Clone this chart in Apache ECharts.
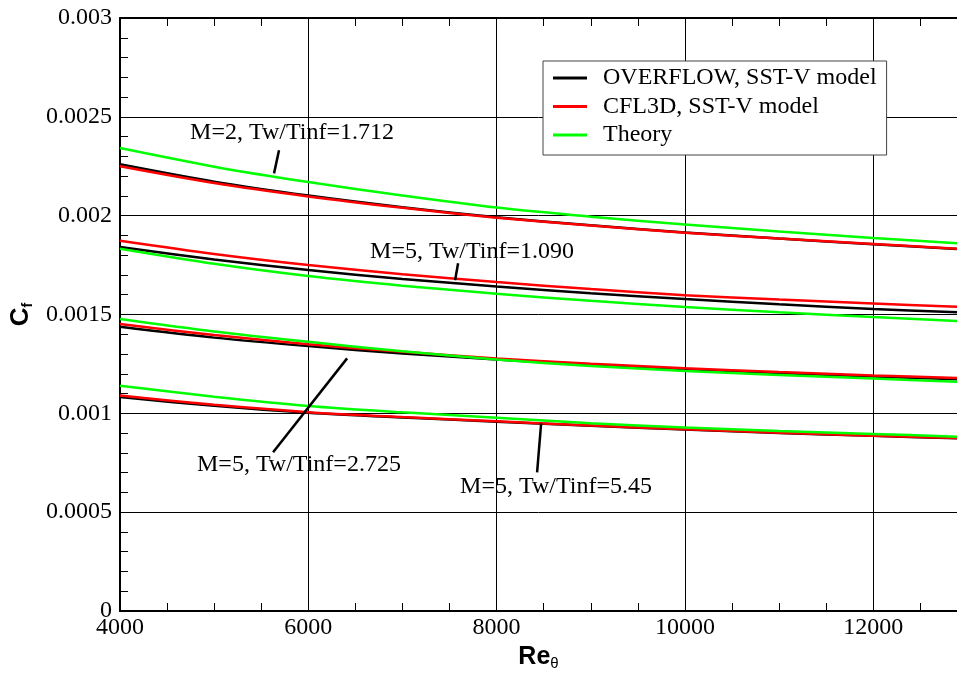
<!DOCTYPE html>
<html><head><meta charset="utf-8">
<script src="https://cdn.jsdelivr.net/npm/echarts@6/dist/echarts.min.js"></script>
<style>html,body{margin:0;padding:0;background:#fff}#c{width:957px;height:674px}</style>
</head><body><div id="c"></div>
<script>
// Re_theta sample positions
const reTheta = [4000, 5000, 6000, 7000, 8000, 9000, 10000, 11000, 12000, 12890];

// M=2, Tw/Tinf=1.712
const overflowM2T1712 = [0.002260, 0.002172, 0.002102, 0.002043, 0.001992, 0.001951, 0.001915, 0.001884, 0.001856, 0.001831];
const cfl3dM2T1712    = [0.002250, 0.002165, 0.002097, 0.002040, 0.001990, 0.001950, 0.001914, 0.001884, 0.001857, 0.001832];
const theoryM2T1712   = [0.002342, 0.002248, 0.002170, 0.002102, 0.002041, 0.001995, 0.001955, 0.001920, 0.001887, 0.001861];

// M=5, Tw/Tinf=1.090
const overflowM5T1090 = [0.001841, 0.001778, 0.001725, 0.001680, 0.001642, 0.001608, 0.001578, 0.001552, 0.001528, 0.001511];
const cfl3dM5T1090    = [0.001873, 0.001806, 0.001750, 0.001704, 0.001664, 0.001629, 0.001598, 0.001576, 0.001556, 0.001539];
const theoryM5T1090   = [0.001833, 0.001757, 0.001695, 0.001646, 0.001605, 0.001569, 0.001538, 0.001511, 0.001487, 0.001467];

// M=5, Tw/Tinf=2.725
const overflowM5T2725 = [0.001438, 0.001383, 0.001340, 0.001303, 0.001272, 0.001246, 0.001224, 0.001204, 0.001186, 0.001172];
const cfl3dM5T2725    = [0.001452, 0.001396, 0.001350, 0.001311, 0.001277, 0.001251, 0.001228, 0.001209, 0.001192, 0.001179];
const theoryM5T2725   = [0.001477, 0.001414, 0.001362, 0.001314, 0.001272, 0.001240, 0.001214, 0.001194, 0.001176, 0.001160];

// M=5, Tw/Tinf=5.45
const overflowM5T545  = [0.001082, 0.001038, 0.001003, 0.000979, 0.000958, 0.000937, 0.000918, 0.000901, 0.000886, 0.000874];
const cfl3dM5T545     = [0.001090, 0.001043, 0.001006, 0.000981, 0.000960, 0.000938, 0.000919, 0.000902, 0.000887, 0.000875];
const theoryM5T545    = [0.001140, 0.001084, 0.001037, 0.001005, 0.000978, 0.000950, 0.000928, 0.000911, 0.000896, 0.000882];

const seriesNames = ['OVERFLOW, SST-V model', 'CFL3D, SST-V model', 'Theory'];
const yTickLabels = ['0', '0.0005', '0.001', '0.0015', '0.002', '0.0025', '0.003'];
const xTickLabels = ['4000', '6000', '8000', '10000', '12000'];

// annotation texts with anchor (data coords) and leader line (data coords)
const notes = [
  {text: 'M=2, Tw/Tinf=1.712', at: [4744, 0.002422], line: [[5689, 0.002331], [5636, 0.002214]]},
  {text: 'M=5, Tw/Tinf=1.090', at: [6656, 0.001819], line: [[7591, 0.001759], [7559, 0.001673]]},
  {text: 'M=5, Tw/Tinf=2.725', at: [4818, 0.000742], line: [[6412, 0.001278], [5626, 0.000803]]},
  {text: 'M=5, Tw/Tinf=5.45',  at: [7612, 0.000630], line: [[8473, 0.000949], [8430, 0.000701]]}
];

const groups = [
  [overflowM2T1712, cfl3dM2T1712, theoryM2T1712],
  [overflowM5T1090, cfl3dM5T1090, theoryM5T1090],
  [overflowM5T2725, cfl3dM5T2725, theoryM5T2725],
  [overflowM5T545, cfl3dM5T545, theoryM5T545]
];

const serif = '"Liberation Serif", "Times New Roman", serif';
const sans = '"Liberation Sans", Arial, sans-serif';
const colors = ['#000000', '#ff0000', '#00ff00'];

const series = [];
groups.forEach(g => g.forEach((vals, k) => {
  series.push({
    type: 'line', name: seriesNames[k],
    data: reTheta.map((x, i) => [x, vals[i]]),
    symbol: 'none', smooth: 0.3,
    color: colors[k], itemStyle: {color: colors[k]},
    lineStyle: {color: colors[k], width: 2.5},
    z: 3 + k, silent: true
  });
}));

const axisLineStyle = {show: true, lineStyle: {color: '#000', width: 2}};
const chart = echarts.init(document.getElementById('c'), null, {renderer: 'canvas'});
chart.setOption({
  animation: false,
  backgroundColor: '#fff',
  grid: {left: 120, top: 18, right: 0, height: 593, containLabel: false, outerBoundsMode: 'none'},
  legend: {
    data: seriesNames, orient: 'vertical', left: 543, top: 61,
    icon: 'rect', itemWidth: 34, itemHeight: 3, itemGap: 4.5,
    padding: [5, 10, 8, 10], backgroundColor: '#fff', borderColor: '#444', borderWidth: 1,
    textStyle: {fontFamily: serif, fontSize: 24, color: '#000', padding: [0, 0, 0, 11], lineHeight: 24},
    selectedMode: false, z: 20
  },
  xAxis: [{
    type: 'value', min: 4000, max: 12890, interval: 2000, position: 'bottom',
    axisLine: axisLineStyle,
    axisTick: {inside: true, length: 12, lineStyle: {color: '#000', width: 1}},
    minorTick: {show: true, splitNumber: 4, length: 8, lineStyle: {color: '#000', width: 1}},
    splitLine: {show: true, lineStyle: {color: '#000', width: 1}},
    axisLabel: {color: '#000', fontFamily: serif, fontSize: 24, margin: 5, showMaxLabel: false,
      formatter: v => { const i = (v - 4000) / 2000; return Number.isInteger(i) ? (xTickLabels[i] || '') : ''; }},
    name: '{a|Re}{b|θ}', nameLocation: 'middle', nameGap: 30,
    nameTextStyle: {rich: {
      a: {fontFamily: sans, fontWeight: 'bold', fontSize: 25, color: '#000', lineHeight: 28},
      b: {fontFamily: sans, fontWeight: 'normal', fontSize: 15, color: '#000', lineHeight: 14, verticalAlign: 'bottom'}
    }}
  }, {
    type: 'value', min: 4000, max: 12890, interval: 2000, position: 'top',
    axisLine: axisLineStyle,
    axisTick: {inside: true, length: 12, lineStyle: {color: '#000', width: 1}},
    minorTick: {show: true, splitNumber: 4, length: 8, lineStyle: {color: '#000', width: 1}},
    splitLine: {show: false}, axisLabel: {show: false}
  }],
  yAxis: [{
    type: 'value', min: 0, max: 0.003, interval: 0.0005,
    axisLine: axisLineStyle,
    axisTick: {inside: true, length: 12, lineStyle: {color: '#000', width: 1}},
    minorTick: {show: true, splitNumber: 5, length: 8, lineStyle: {color: '#000', width: 1}},
    splitLine: {show: true, lineStyle: {color: '#000', width: 1}},
    axisLabel: {color: '#000', fontFamily: serif, fontSize: 24, margin: 8,
      formatter: v => yTickLabels[Math.round(v / 0.0005)] || ''},
    name: '{a|C}{b|f}', nameLocation: 'middle', nameGap: 82, nameRotate: 90,
    nameTextStyle: {rich: {
      a: {fontFamily: sans, fontWeight: 'bold', fontSize: 26, color: '#000', lineHeight: 28},
      b: {fontFamily: sans, fontWeight: 'bold', fontSize: 14, color: '#000', lineHeight: 14, verticalAlign: 'bottom'}
    }}
  }],
  series: series
});

function drawNotes() {
  const els = [];
  notes.forEach(n => {
    const p = chart.convertToPixel({xAxisIndex: 0, yAxisIndex: 0}, n.at);
    const a = chart.convertToPixel({xAxisIndex: 0, yAxisIndex: 0}, n.line[0]);
    const b = chart.convertToPixel({xAxisIndex: 0, yAxisIndex: 0}, n.line[1]);
    els.push({type: 'line', shape: {x1: a[0], y1: a[1], x2: b[0], y2: b[1]},
      style: {stroke: '#000', lineWidth: 2.5}, z: 30, silent: true});
    els.push({type: 'text', x: p[0], y: p[1], z: 30, silent: true,
      style: {text: n.text, fill: '#000', font: '24px ' + serif, textAlign: 'left', textVerticalAlign: 'middle', align: 'left', verticalAlign: 'middle'}});
  });
  chart.setOption({graphic: {elements: els}});
}
drawNotes();
</script>
</body></html>
